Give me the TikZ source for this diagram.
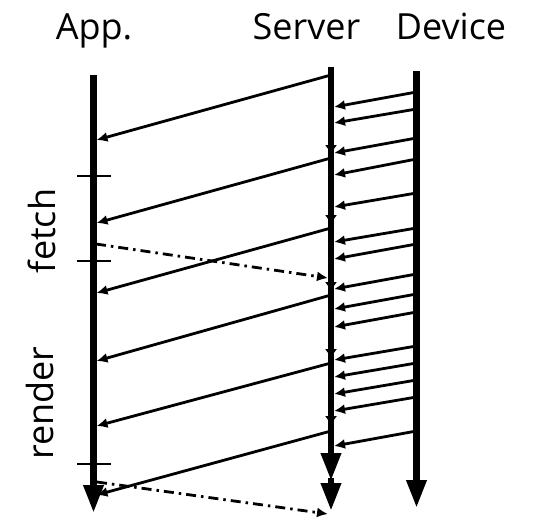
\documentclass[tikz,border=0pt]{standalone}
\usepackage{fontspec}
\setmainfont{Open Sans}
\usetikzlibrary{arrows.meta}
\begin{document}
\begin{tikzpicture}[x=1pt,y=-1pt,
  life/.style={line width=6.5pt},
  msg/.style={line width=2.8pt,-{Latex[length=11pt,width=10pt]}},
  ctl/.style={line width=2.8pt,dash pattern=on 10pt off 5pt on 2.5pt off 5pt,-{Latex[length=11pt,width=10pt]}},
  bigtip/.style={-{Triangle[length=28pt,width=19pt]}},
  smalltip/.style={-{Triangle[length=8pt,width=11pt]}},
  tickmark/.style={line width=2.8pt},
  lbl/.style={font=\fontsize{36}{40}\selectfont, inner sep=0pt}]
\useasboundingbox (0,0) rectangle (553,517);
% labels
\node[lbl,anchor=base] (lapp) at (94,39) {App.};
\node[lbl,anchor=base] (lsrv) at (306.5,39) {Server};
\node[lbl,anchor=base] (ldev) at (451,39) {Device};
\node[lbl,anchor=base,rotate=90] (lfetch) at (55,231) {fetch};
\node[lbl,anchor=base,rotate=90] (lrender) at (53.5,403) {render};
% lifelines
\coordinate (A0) at (93.5,75); \coordinate (A1) at (93.5,513);
\coordinate (S0) at (331,67); \coordinate (S1) at (331,481);
\coordinate (S1b) at (331,478); \coordinate (S2) at (331,511);
\coordinate (D0) at (416.5,71); \coordinate (D1) at (416.5,508);
\draw[life,bigtip] (A0) -- (A1);
\draw[life,bigtip] (S0) -- (S1);
\draw[life,bigtip] (S1b) -- (S2);
\draw[life,bigtip] (D0) -- (D1);
\foreach \y in {153,223,290,357,424}{
  \coordinate (t\y) at (331,\y);
  \draw[life,smalltip] ([yshift=9pt]t\y) -- (t\y);
}
% ticks
\foreach \y in {176,261,464}{
  \coordinate (tl\y) at (77,\y); \coordinate (tr\y) at (111,\y);
  \draw[tickmark] (tl\y) -- (tr\y);
}
% server -> app
\foreach \i/\a/\b in {1/75/140,2/158/223,3/228/293,4/295/361,5/363/426,6/431/495}{
  \coordinate (sa\i) at (331,\a); \coordinate (as\i) at (96.5,\b);
  \draw[msg] (sa\i) -- (as\i);
}
% device -> server
\foreach \i/\a/\b in {1/92/107,2/109/123,3/138/153,4/159/175,5/193/207,6/228/242,7/244/259,8/274/289,9/294/309,10/312/327,11/346/360,12/363/377,13/380/394,14/397/411,15/431/446}{
  \coordinate (ds\i) at (416.5,\a); \coordinate (sd\i) at (334,\b);
  \draw[msg] (ds\i) -- (sd\i);
}
% app -> server (dash-dot)
\coordinate (c1a) at (96,244); \coordinate (c1b) at (328,278);
\coordinate (c2a) at (97,482); \coordinate (c2b) at (328,514);
\draw[ctl] (c1a) -- (c1b);
\draw[ctl] (c2a) -- (c2b);
\end{tikzpicture}
\end{document}
